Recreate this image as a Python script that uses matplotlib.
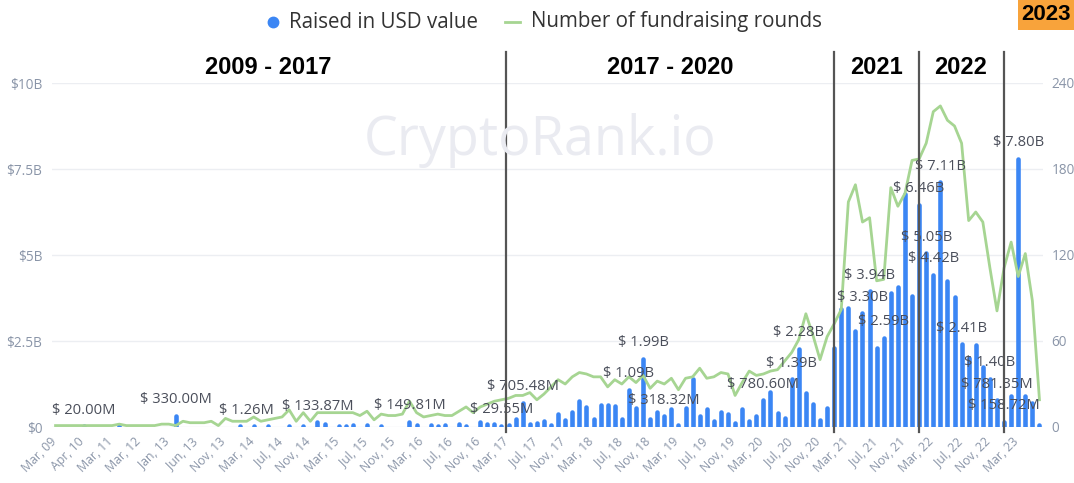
import matplotlib
matplotlib.use("Agg")
import matplotlib.pyplot as plt
from matplotlib.lines import Line2D
from matplotlib.patches import Rectangle
from matplotlib.transforms import ScaledTranslation

# ---------------- data ----------------
months = [
    "Mar 09", "Jul 09", "Oct 09", "Jan 10", "Apr 10", "Jun 10", "Sep 10", "Dec 10",
    "Mar 11", "Jun 11", "Sep 11", "Dec 11", "Mar 12", "Jun 12", "Sep 12", "Nov 12",
    "Jan 13", "Feb 13", "Mar 13", "Apr 13", "Jun 13", "Jul 13", "Aug 13", "Oct 13",
    "Nov 13", "Dec 13", "Jan 14", "Feb 14",
    "Mar 14", "Apr 14", "May 14", "Jun 14", "Jul 14", "Aug 14", "Sep 14", "Oct 14", "Nov 14", "Dec 14",
    "Jan 15", "Feb 15", "Mar 15", "Apr 15", "May 15", "Jun 15", "Jul 15", "Aug 15", "Sep 15", "Oct 15", "Nov 15", "Dec 15",
    "Jan 16", "Feb 16", "Mar 16", "Apr 16", "May 16", "Jun 16", "Jul 16", "Aug 16", "Sep 16", "Oct 16", "Nov 16", "Dec 16",
    "Jan 17", "Feb 17", "Mar 17", "Apr 17", "May 17", "Jun 17", "Jul 17", "Aug 17", "Sep 17", "Oct 17", "Nov 17", "Dec 17",
    "Jan 18", "Feb 18", "Mar 18", "Apr 18", "May 18", "Jun 18", "Jul 18", "Aug 18", "Sep 18", "Oct 18", "Nov 18", "Dec 18",
    "Jan 19", "Feb 19", "Mar 19", "Apr 19", "May 19", "Jun 19", "Jul 19", "Aug 19", "Sep 19", "Oct 19", "Nov 19", "Dec 19",
    "Jan 20", "Feb 20", "Mar 20", "Apr 20", "May 20", "Jun 20", "Jul 20", "Aug 20", "Sep 20", "Oct 20", "Nov 20", "Dec 20",
    "Jan 21", "Feb 21", "Mar 21", "Apr 21", "May 21", "Jun 21", "Jul 21", "Aug 21", "Sep 21", "Oct 21", "Nov 21", "Dec 21",
    "Jan 22", "Feb 22", "Mar 22", "Apr 22", "May 22", "Jun 22", "Jul 22", "Aug 22", "Sep 22", "Oct 22", "Nov 22", "Dec 22",
    "Jan 23", "Feb 23", "Mar 23", "Apr 23", "May 23", "Jun 23",
]

# Raised in USD value, billions
raised_busd = [
    0, 0, 0, 0, 0.020, 0, 0, 0, 0, 0.025, 0, 0, 0, 0, 0, 0,
    0, 0.330, 0, 0, 0, 0, 0, 0, 0, 0, 0.03, 0.00126,
    0.03, 0, 0.03, 0, 0, 0.03, 0, 0.03, 0, 0.13387,
    0.08, 0, 0.04, 0.04, 0.05, 0, 0.06, 0, 0.03, 0, 0, 0,
    0.14981, 0.06, 0, 0.06, 0.03, 0.05, 0, 0.08, 0.02, 0, 0.15, 0.09,
    0.09, 0.02955, 0.06, 0.22, 0.70548, 0.09, 0.13, 0.18, 0.06, 0.38, 0.20, 0.45,
    0.76, 0.57, 0.24, 0.64, 0.63, 0.62, 0.24, 1.09, 0.54, 1.99, 0.24, 0.44,
    0.31832, 0.52, 0.06, 0.55, 1.40, 0.31, 0.51, 0.16, 0.43, 0.39, 0.13, 0.52,
    0.17, 0.32, 0.7806, 1.02, 0.41, 0.27, 1.39, 2.28, 0.98, 0.68, 0.21, 0.55,
    2.30, 3.42, 3.47, 2.78, 3.30, 3.94, 2.30, 2.59, 3.90, 4.07, 6.77, 3.81,
    6.46, 5.05, 4.42, 7.11, 4.24, 3.79, 2.41, 2.00, 2.37, 1.75, 1.40, 0.78135,
    0.15872, 0.89, 7.80, 0.89, 0.69, 0.06,
]

# Number of fundraising rounds
rounds = [
    1, 1, 1, 1, 1, 1, 1, 1, 1, 2, 1, 1, 1, 1, 1, 2,
    2, 1, 4, 3, 3, 3, 4, 1, 6, 4, 4, 4,
    7, 4, 5, 6, 7, 12, 4, 10, 4, 10,
    10, 10, 10, 10, 10, 8, 11, 5, 9, 8, 8, 9,
    18, 10, 7, 8, 9, 8, 8, 11, 14, 10, 14, 16,
    18, 19, 20, 22, 22, 24, 19, 23, 28, 33, 30, 35,
    38, 37, 35, 35, 28, 33, 30, 35, 31, 36, 27, 32,
    30, 34, 26, 34, 35, 41, 34, 35, 38, 37, 22, 31,
    39, 36, 37, 39, 40, 46, 52, 61, 79, 64, 47, 63,
    72, 82, 157, 169, 143, 146, 102, 103, 167, 154, 163, 186,
    187, 198, 220, 224, 214, 210, 198, 144, 150, 143, 111, 81,
    111, 129, 105, 121, 88, 19,
]

# bars whose value label is shown
label_idx = [4, 17, 27, 37, 50, 63, 66, 81, 83, 86, 100, 104, 105, 114, 115, 117,
             122, 123, 124, 125, 128, 132, 133, 134, 136]

left_ticks = [0, 2.5, 5, 7.5, 10]
left_tick_labels = ["$0", "$2.5B", "$5B", "$7.5B", "$10B"]
right_ticks = [0, 60, 120, 180, 240]
right_tick_labels = ["0", "60", "120", "180", "240"]

era_labels = ["2009 - 2017", "2017 - 2020", "2021", "2022"]
era_label_x = [30.0, 86.8, 116.0, 127.9]
era_bounds = [63.7, 110, 122, 134]

# ---------------- style ----------------
BLUE = "#3b86f4"
GREEN = "#a6d592"
GRAY_TXT = "#8a95a8"
LABEL_TXT = "#4a4e5a"
FONT = "Open Sans"

W, H = 1074, 483
fig = plt.figure(figsize=(W / 100, H / 100), dpi=100)
fig.patch.set_facecolor("white")

ax = fig.add_axes([52 / W, (H - 427) / H, 991 / W, 344 / H])
n = len(months)
x = list(range(n))

# bars with rounded tops (round cap, bottom cap clipped by the axes)
ax.vlines(x, 0, raised_busd, colors=BLUE, linewidth=3.3, capstyle="round", zorder=2)
ax.set_xlim(-0.5, n - 0.5)
ax.set_ylim(0, 10)
ax.set_yticks(left_ticks)
ax.set_yticklabels(left_tick_labels, fontsize=9.8, color=GRAY_TXT, family=FONT)
ax.tick_params(axis="y", length=0, pad=7)
ax.grid(axis="y", color="#eceef2", lw=1, zorder=0)
ax.set_axisbelow(True)
for s in ax.spines.values():
    s.set_visible(False)

ax.set_xticks(x[::4])
ax.set_xticklabels([m.replace(" ", ", ") for m in months[::4]], rotation=45, ha="right",
                   rotation_mode="anchor", fontsize=8.8, color=GRAY_TXT, family=FONT)
ax.tick_params(axis="x", length=0, pad=6)
off = ScaledTranslation(-6 / 100, 0, fig.dpi_scale_trans)
for lab in ax.get_xticklabels():
    lab.set_transform(lab.get_transform() + off)

ax2 = ax.twinx()
ax2.plot(x, rounds, color=GREEN, lw=2, zorder=3, solid_joinstyle="round")
ax2.set_ylim(0, 240)
ax2.set_yticks(right_ticks)
ax2.set_yticklabels(right_tick_labels, fontsize=9.8, color=GRAY_TXT, family=FONT)
ax2.tick_params(axis="y", length=0, pad=6)
for s in ax2.spines.values():
    s.set_visible(False)

# value labels
for i in label_idx:
    v = raised_busd[i]
    txt = f"$ {v:.2f}B" if v >= 1 else f"$ {v * 1000:.2f}M"
    ax2.annotate(txt, xy=(i, v), xycoords=ax.transData, xytext=(0, 16),
                 textcoords="offset pixels", ha="center", va="center",
                 fontsize=10.6, color=LABEL_TXT, family=FONT, zorder=5)

# era separators
for b in era_bounds:
    ax2.plot([b, b], [-0.15, 10.9], transform=ax.transData, color="#555555",
             lw=1.6, clip_on=False, zorder=6)
for lbl, ex in zip(era_labels, era_label_x):
    ax2.text(ex, 10.44, lbl, transform=ax.transData, ha="center", va="center",
             fontsize=17, fontweight="bold", family="Liberation Sans", color="black",
             clip_on=False, zorder=6)

# watermark
fig.text(540 / W, 1 - 141 / H, "CryptoRank.io", ha="center", va="center",
         fontsize=38.8, color="#eaebf1", family=FONT, zorder=0)

# legend
ly = 1 - 22 / H
fig.add_artist(Line2D([273 / W], [ly], marker="o", ms=7.5, color=BLUE, lw=0,
                      transform=fig.transFigure))
fig.text(289 / W, ly, "Raised in USD value", ha="left", va="center",
         fontsize=14.8, color="#333333", family=FONT)
fig.add_artist(Line2D([505 / W, 520 / W], [ly, ly], color=GREEN, lw=2,
                      transform=fig.transFigure))
fig.text(531 / W, ly, "Number of fundraising rounds", ha="left", va="center",
         fontsize=14.8, color="#333333", family=FONT)

# 2023 tag
fig.add_artist(Rectangle((1018 / W, 1 - 30 / H), 56 / W, 30 / H, facecolor="#f8a33b",
                         edgecolor="none", transform=fig.transFigure))
fig.text(1046 / W, 1 - 15 / H, "2023", ha="center", va="center", fontsize=16,
         fontweight="bold", family="Liberation Sans", color="black")

fig.savefig("out.png", dpi=100)
